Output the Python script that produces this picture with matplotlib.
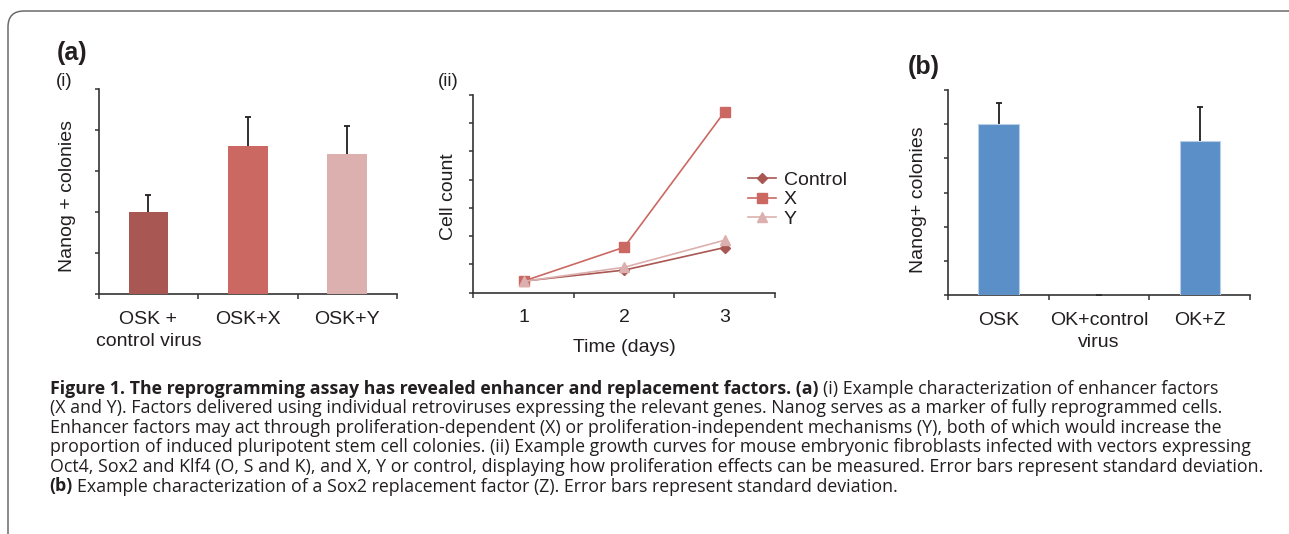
import matplotlib
matplotlib.use("Agg")
import matplotlib.pyplot as plt
from matplotlib.patches import FancyBboxPatch

W, H = 1289, 534
DPI = 100

# ---------------- data ----------------
enh_labels = ["OSK +\ncontrol virus", "OSK+X", "OSK+Y"]
enh_values = [2.0, 3.61, 3.41]
enh_errors = [0.41, 0.71, 0.69]
enh_colors = ["#a85752", "#cb6862", "#dbb0ae"]

days = ["1", "2", "3"]
control_counts = [0.41, 0.80, 1.60]
x_counts = [0.41, 1.61, 6.41]
y_counts = [0.40, 0.90, 1.86]
series_names = ["Control", "X", "Y"]

rep_labels = ["OSK", "OK+control\nvirus", "OK+Z"]
rep_values = [5.0, 0.0, 4.51]
rep_errors = [0.62, 0.0, 1.0]
rep_color = "#5b8fc7"

caption_lines = [
    [("Figure 1. The reprogramming assay has revealed enhancer and replacement factors. (a)", "bold"),
     ("(i) Example characterization of enhancer factors", "normal")],
    [("(X and Y). Factors delivered using individual retroviruses expressing the relevant genes. Nanog serves as a marker of fully reprogrammed cells.", "normal")],
    [("Enhancer factors may act through proliferation-dependent (X) or proliferation-independent mechanisms (Y), both of which would increase the", "normal")],
    [("proportion of induced pluripotent stem cell colonies. (ii) Example growth curves for mouse embryonic fibroblasts infected with vectors expressing", "normal")],
    [("Oct4, Sox2 and Klf4 (O, S and K), and X, Y or control, displaying how proliferation effects can be measured. Error bars represent standard deviation.", "normal")],
    [("(b)", "bold"),
     ("Example characterization of a Sox2 replacement factor (Z). Error bars represent standard deviation.", "normal")],
]

# ---------------- style ----------------
FONT = "Liberation Sans"
CAP_FONT = "Open Sans"
TXT = "#231f20"
AX = "#333333"
plt.rcParams["font.family"] = FONT

fig = plt.figure(figsize=(W / DPI, H / DPI), dpi=DPI, facecolor="white")

# outer rounded frame
frame = FancyBboxPatch((8 / DPI, -0.6), (1310 - 8) / DPI, (H - 11) / DPI + 0.6,
                       boxstyle="round,pad=0,rounding_size=0.16",
                       transform=fig.dpi_scale_trans, facecolor="none",
                       edgecolor="#6b6b6b", linewidth=1.1, zorder=0)
fig.patches.append(frame)


def px_axes(x0, y0, x1, y1):
    return fig.add_axes([x0 / W, 1 - y1 / H, (x1 - x0) / W, (y1 - y0) / H])


def style_axes(ax, ymax, labels):
    for s in ["top", "right"]:
        ax.spines[s].set_visible(False)
    for s in ["left", "bottom"]:
        ax.spines[s].set_color(AX)
        ax.spines[s].set_linewidth(1.2)
    ax.patch.set_alpha(0)
    ax.set_ylim(0, ymax)
    ax.set_yticks(range(ymax + 1))
    ax.set_yticklabels([])
    ax.tick_params(axis="y", direction="out", length=3, width=1.1, color=AX)
    ax.set_xlim(-0.5, 2.5)
    ax.set_xticks([-0.5, 0.5, 1.5, 2.5])
    ax.set_xticklabels([])
    ax.tick_params(axis="x", which="major", direction="out", length=3.5, width=1.1, color=AX)
    ax.set_xticks(range(len(labels)), labels, minor=True)
    ax.tick_params(axis="x", which="minor", length=0, pad=12, labelsize=14, labelcolor=TXT)
    for t in ax.get_xticklabels(minor=True):
        t.set_linespacing(1.4)


def ftext(x, y, s, **kw):
    kw.setdefault("color", TXT)
    kw.setdefault("ha", "center")
    kw.setdefault("va", "center")
    return fig.text(x / W, 1 - y / H, s, **kw)


# ---------------- panel (a)(i) ----------------
ax1 = px_axes(98.7, 89.3, 397, 294)
style_axes(ax1, 5, enh_labels)
xs = range(len(enh_values))
ax1.bar(xs, enh_values, width=0.4, color=enh_colors, zorder=3)
ax1.errorbar(xs, enh_values, yerr=enh_errors, fmt="none", ecolor=TXT,
             elinewidth=1.3, capsize=2.2, capthick=1.3, zorder=2)

# ---------------- panel (a)(ii) ----------------
ax2 = px_axes(473.3, 95, 775, 292.7)
style_axes(ax2, 7, days)
ax2.plot(range(3), control_counts, marker="D", ms=5, color=enh_colors[0], lw=1.2,
         label=series_names[0], zorder=3)
ax2.plot(range(3), x_counts, marker="s", ms=7, color=enh_colors[1], lw=1.2,
         label=series_names[1], zorder=3)
ax2.plot(range(3), y_counts, marker="^", ms=7, color=enh_colors[2], lw=1.2,
         label=series_names[2], zorder=3)
leg = ax2.legend(loc="center left", bbox_to_anchor=(748 / W, 1 - 199.5 / H),
                 bbox_transform=fig.transFigure, frameon=False, fontsize=14,
                 handlelength=1.45, handletextpad=0.4, labelspacing=0.1,
                 borderaxespad=0, borderpad=0)
for t in leg.get_texts():
    t.set_color(TXT)

# ---------------- panel (b) ----------------
ax3 = px_axes(948.3, 90, 1250, 295)
style_axes(ax3, 6, rep_labels)
xs3 = range(len(rep_values))
ax3.bar(xs3, rep_values, width=0.4, color=rep_color, edgecolor="#b9cfe8",
        linewidth=0.8, zorder=3)
ax3.errorbar(xs3, rep_values, yerr=rep_errors, fmt="none", ecolor=TXT,
             elinewidth=1.3, capsize=2.2, capthick=1.3, zorder=2)

# ---------------- labels ----------------
ftext(72, 53, "(a)", fontsize=18, fontweight="bold")
ftext(64, 81, "(i)", fontsize=13.5)
ftext(448, 81, "(ii)", fontsize=13.5)
ftext(924, 67, "(b)", fontsize=18, fontweight="bold")
ftext(67, 196, "Nanog + colonies", fontsize=14, rotation=90)
ftext(448, 197, "Cell count", fontsize=14, rotation=90)
ftext(918, 200, "Nanog+ colonies", fontsize=14, rotation=90)
ftext(624, 347, "Time (days)", fontsize=14)

# ---------------- caption ----------------
renderer = fig.canvas.get_renderer()


def text_width(s, size, weight="normal"):
    t = fig.text(0, 0, s, fontsize=size, fontweight=weight, family=CAP_FONT)
    w = t.get_window_extent(renderer=renderer).width
    t.remove()
    return w


target = 1250 - 49.5
w10 = text_width(caption_lines[3][0][0], 10)
cap_size = 10 * target / w10
space_w = text_width("x x", cap_size) - text_width("xx", cap_size)

base0 = 393.5
step = 19.6
for i, segs in enumerate(caption_lines):
    xpix = 49.5
    ypix = base0 + i * step
    for j, (s, wt) in enumerate(segs):
        if j > 0:
            xpix += space_w
        t = fig.text(xpix / W, 1 - ypix / H, s, fontsize=cap_size, fontweight=wt,
                     family=CAP_FONT, color=TXT, ha="left", va="baseline")
        bb = t.get_window_extent(renderer=renderer)
        xpix = bb.x1

fig.savefig("out.png", dpi=DPI, facecolor="white")
